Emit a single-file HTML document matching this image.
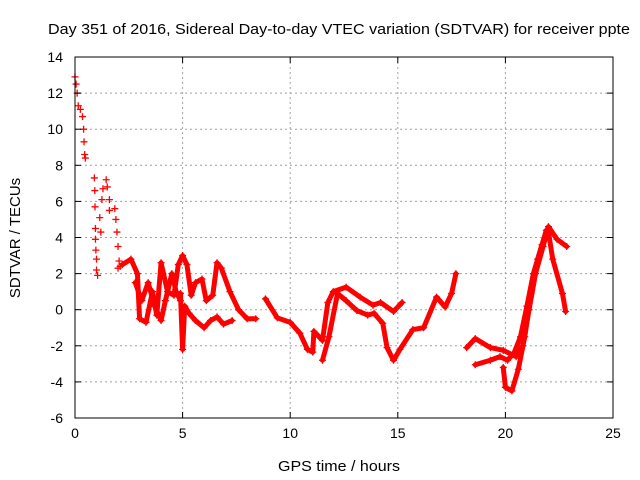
<!DOCTYPE html>
<html><head><meta charset="utf-8"><style>
body{margin:0;background:#fff;}
svg{display:block;font-family:"Liberation Sans",sans-serif;}
</style></head><body>
<svg id="chart" width="640" height="480">
<text x="339" y="34" text-anchor="middle" font-size="15" textLength="582" lengthAdjust="spacingAndGlyphs">Day 351 of 2016, Sidereal Day-to-day VTEC variation (SDTVAR) for receiver ppte</text>
<g id="grid"></g>
<g id="marks"></g>
<rect x="75" y="57" width="538" height="361" fill="none" stroke="#000" stroke-width="1"/>
<g id="axes"></g>
<text x="339" y="471" text-anchor="middle" font-size="15" textLength="122" lengthAdjust="spacingAndGlyphs">GPS time / hours</text>
<text transform="translate(20,238) rotate(-90)" text-anchor="middle" font-size="15">SDTVAR / TECUs</text>
</svg>
<script>
const xTicks=[0,5,10,15,20,25];
const yTicks=[-6,-4,-2,0,2,4,6,8,10,12,14];
// sparse early points (hours, TECU)
const sparse=[[0,12.9],[0.05,12.5],[0.1,12.0],[0.15,11.3],[0.25,11.1],[0.35,10.7],[0.4,10.0],[0.42,9.3],[0.45,8.6],[0.48,8.4],
[0.9,7.3],[0.92,6.6],[0.93,5.7],[0.95,4.5],[0.95,3.9],[0.97,3.3],[1.0,2.8],[1.0,2.2],[1.05,1.9],[1.2,4.3],[1.15,5.1],[1.25,6.1],[1.3,6.7],[1.45,7.2],[1.5,6.8],[1.6,6.1],[1.6,5.5],[1.85,5.6],[1.9,5.0],[1.95,4.3],[2.0,3.5],[2.05,2.7],[2.0,2.3],[2.1,2.4]];
const trackC=[[2.2,2.5],[2.6,2.8],[2.9,2.0],[3.0,-0.5],[3.3,-0.7],[3.6,1.0],[3.8,-0.3],[4.0,2.6],[4.3,1.0],[4.6,0.8],[4.8,2.5],[5.0,3.0],[5.2,2.5],[5.4,0.8],[5.6,1.5],[5.9,1.7],[6.1,0.5],[6.4,0.8],[6.6,2.6],[6.8,2.3],[7.2,1.0],[7.6,0.0],[8.0,-0.5],[8.4,-0.5]];
const trackC2=[[2.8,1.5],[3.1,0.5],[3.4,1.5],[3.7,0.2],[4.0,-0.6],[4.2,0.5],[4.5,2.0],[4.7,1.0],[4.9,0.5]];
const trackD=[[4.9,0.9],[5.0,-2.2],[5.1,0.2],[5.3,-0.2],[5.6,-0.6],[6.0,-1.0],[6.3,-0.6],[6.6,-0.4],[6.9,-0.8],[7.3,-0.6]];
const trackE1=[[8.85,0.6],[9.4,-0.45],[10.0,-0.7],[10.45,-1.3],[10.8,-2.2],[11.05,-2.35],[11.1,-1.2],[11.5,-1.7],[11.75,0.4],[12.0,1.0],[12.6,1.25],[13.25,0.7],[13.85,0.25],[14.2,0.4],[14.8,-0.1],[15.2,0.4]];
const trackE2=[[11.5,-2.8],[11.8,-1.5],[12.2,0.9],[12.6,0.5],[13.1,-0.05],[13.6,-0.3],[13.9,-0.2],[14.3,-0.75],[14.5,-2.1],[14.8,-2.8],[15.1,-2.2],[15.7,-1.1],[16.2,-1.0],[16.8,0.7],[17.2,0.15],[17.5,0.9],[17.7,2.0]];
const trackF1=[[18.2,-2.1],[18.6,-1.6],[19.3,-2.1],[19.9,-2.25],[20.5,-2.6],[20.8,-2.0],[21.1,0],[21.4,2.0],[21.75,3.5],[22.0,4.6],[22.4,3.9],[22.85,3.5]];
const trackF2=[[18.6,-3.05],[19.3,-2.8],[19.75,-2.6],[20.1,-2.8],[20.4,-2.4],[20.7,-1.5],[21.0,0.2],[21.3,2.0],[21.7,3.6],[22.0,4.3],[22.2,2.8],[22.65,0.9],[22.8,-0.1]];
const trackF3=[[19.9,-3.2],[20.0,-4.3],[20.3,-4.5],[20.6,-3.3],[20.9,-1.5],[21.2,0.9],[21.5,2.8],[21.9,4.4]];
const tracks=[trackC,trackC2,trackD,trackE1,trackE2,trackF1,trackF2,trackF3];

const NS="http://www.w3.org/2000/svg";
const X0=75,X1=613,Y0=418,Y1=57;
function xs(h){return X0+(h-0)/25*(X1-X0);}
function ys(v){return Y0-(v+6)/20*(Y0-Y1);}
function mk(t,a,p){const e=document.createElementNS(NS,t);for(const k in a)e.setAttribute(k,a[k]);p.appendChild(e);return e;}
const grid=document.getElementById('grid'),axes=document.getElementById('axes'),marks=document.getElementById('marks');
xTicks.forEach(t=>{const x=xs(t);
 if(t>0&&t<25){const g=mk('line',{x1:x,x2:x,y1:Y1,y2:Y0,stroke:'#a0a0a0','stroke-dasharray':'2,3'},grid);
 
 }
 mk('line',{x1:x,x2:x,y1:Y0,y2:Y0-6,stroke:'#000'},axes);
 mk('line',{x1:x,x2:x,y1:Y1,y2:Y1+6,stroke:'#000'},axes);
 const l=mk('text',{x:x,y:Y0+20,'text-anchor':'middle','font-size':'14'},axes);l.textContent=t;
 
 
});
yTicks.forEach(t=>{const y=ys(t);
 if(t>-6&&t<14){const g=mk('line',{x1:X0,x2:X1,y1:y,y2:y,stroke:'#a0a0a0','stroke-dasharray':'2,3'},grid);
 
 }
 mk('line',{x1:X0,x2:X0+6,y1:y,y2:y,stroke:'#000'},axes);
 mk('line',{x1:X1,x2:X1-6,y1:y,y2:y,stroke:'#000'},axes);
 const l=mk('text',{x:X0-12,y:y+5,'text-anchor':'end','font-size':'14'},axes);l.textContent=t;
 
 
});
tracks.forEach(tr=>{
 const p=mk('polyline',{points:tr.map(d=>xs(d[0])+','+ys(d[1])).join(' '),fill:'none',stroke:'#ff0000','stroke-width':'5','stroke-linejoin':'round','stroke-linecap':'round'},marks);
 
 
});
sparse.concat(...tracks).forEach(d=>{
 const x=xs(d[0]),y=ys(d[1]);
 const m=mk('path',{d:`M${x-3.5},${y}H${x+3.5}M${x},${y-3.5}V${y+3.5}`,stroke:'#ff0000','stroke-width':'1.3'},marks);
 
 
});
</script>
</body></html>
